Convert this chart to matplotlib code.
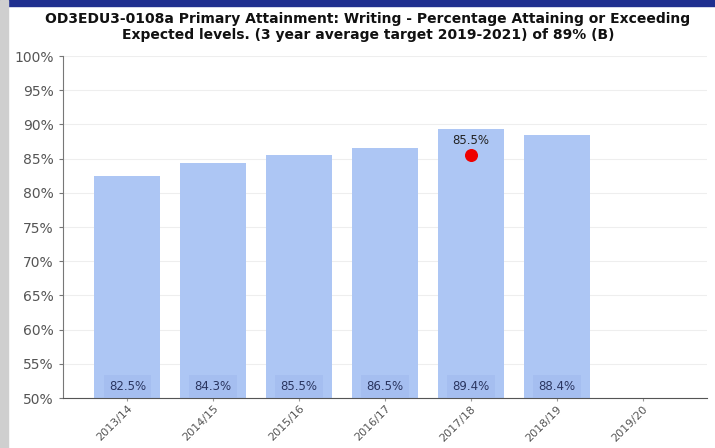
import matplotlib.pyplot as plt
from matplotlib.patches import Rectangle

years = ['2013/14', '2014/15', '2015/16', '2016/17', '2017/18', '2018/19', '2019/20']
attainment = [82.5, 84.3, 85.5, 86.5, 89.4, 88.4, None]
# comparator point shown on the 2017/18 bar
marker_year = 4
marker_value = 85.5

title = ('OD3EDU3-0108a Primary Attainment: Writing - Percentage Attaining or Exceeding\n'
         'Expected levels. (3 year average target 2019-2021) of 89% (B)')

fig = plt.figure(figsize=(7.15, 4.48), dpi=100)
ax = fig.add_axes([63 / 715, 1 - 398 / 448, 644 / 715, 342 / 448])

# frame decorations: dark blue strip along the top, grey strip on the left
fig.patches.append(Rectangle((0, 1 - 6 / 448), 1, 6 / 448, transform=fig.transFigure,
                             color='#1f2f8f', zorder=0))
fig.patches.append(Rectangle((0, 0), 8 / 715, 1, transform=fig.transFigure,
                             color='#cfcfcf', zorder=0))

xs = [i for i, v in enumerate(attainment) if v is not None]
vals = [v for v in attainment if v is not None]
ax.bar(xs, [v - 50 for v in vals], bottom=50, width=0.77, color='#adc6f4', zorder=2)

for x, v in zip(xs, vals):
    ax.text(x, 51.7, f'{v:.1f}%', ha='center', va='center', fontsize=8.5, color='#2a3560',
            zorder=4, bbox=dict(boxstyle='square,pad=0.45', fc='#9fb9ee', ec='none', alpha=0.55))

ax.scatter([marker_year], [marker_value], s=70, color='#ee0000', zorder=5)
ax.text(marker_year, marker_value + 1.2, f'{marker_value:.1f}%', ha='center', va='bottom',
        fontsize=8.5, color='#222222', zorder=5)

ax.set_xlim(-0.75, 6.75)
ax.set_ylim(50, 100)
ax.set_yticks(range(50, 101, 5))
ax.set_yticklabels([f'{t}%' for t in range(50, 101, 5)])
ax.set_xticks(range(len(years)))
ax.set_xticklabels(years, rotation=45, ha='right', rotation_mode='anchor')
ax.tick_params(axis='y', labelsize=10, labelcolor='#555555', color='#777777', length=3)
ax.tick_params(axis='x', labelsize=8, labelcolor='#555555', color='#999999', length=2, pad=2)

ax.yaxis.grid(True, color='#eeeeee', linewidth=0.8, zorder=0)
ax.set_axisbelow(True)
for side in ['top', 'right']:
    ax.spines[side].set_visible(False)
ax.spines['left'].set_color('#777777')
ax.spines['bottom'].set_color('#555555')

fig.text(368 / 715, 1 - 27 / 448, title, ha='center', va='center', fontsize=10,
         fontweight='bold', color='#111111', linespacing=1.15)

fig.savefig('out.png', dpi=100)
